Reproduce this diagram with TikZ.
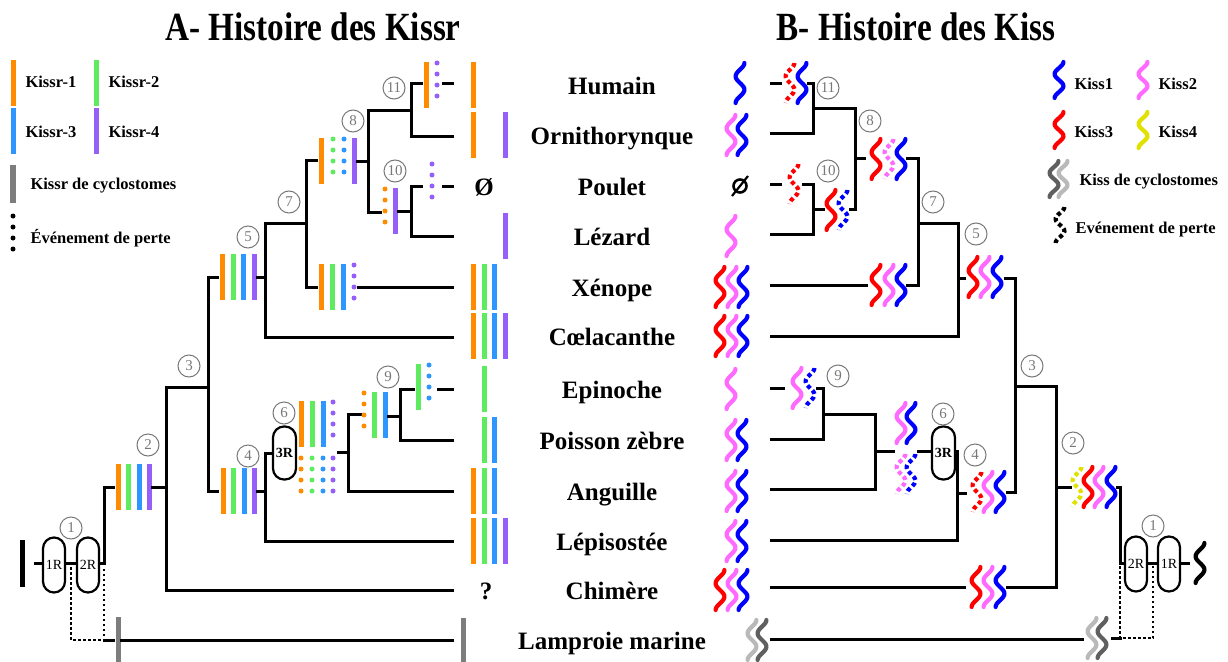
\documentclass[tikz,border=0pt]{standalone}
\usepackage{fontspec}
\usepackage{graphicx}
\setmainfont{Liberation Serif}
\definecolor{kOr}{RGB}{255,140,0}
\definecolor{kGr}{RGB}{95,235,95}
\definecolor{kBl}{RGB}{45,150,255}
\definecolor{kPu}{RGB}{150,95,250}
\definecolor{kGy}{RGB}{125,125,125}
\definecolor{kOne}{RGB}{0,0,255}
\definecolor{kTwo}{RGB}{255,105,255}
\definecolor{kThree}{RGB}{255,0,0}
\definecolor{kFour}{RGB}{225,225,0}
\definecolor{kLg}{RGB}{185,185,185}
\definecolor{kDg}{RGB}{95,95,95}
\definecolor{cGy}{RGB}{120,120,120}
% solid bar, dotted bar, squiggle
\newcommand{\kb}[3]{\draw[#1,line width=5] (#2,#3-23) -- (#2,#3+23);}
\newcommand{\kd}[3]{\draw[#1,line width=5,line cap=round,dash pattern=on 0pt off 11pt] (#2,#3-22) -- (#2,#3+22);}
\newcommand{\ks}[4][40]{\draw[line width=4.2,line cap=round,#2] plot[domain=0:1,samples=41,variable=\t] ({#3+4.4*cos(\t*540)},{#4-#1/2+#1*\t});}
\begin{document}
\begin{tikzpicture}[x=1pt,y=-1pt,
  tree/.style={line width=3,line cap=rect},
  dotl/.style={line width=2.6,dash pattern=on 2.5pt off 2.5pt},
  loss/.style={dash pattern=on 4pt off 3pt,line cap=butt},
  caps/.style={draw,line width=2.2,rounded corners=11,minimum width=22,minimum height=55,fill=white,inner sep=0pt,font=\fontsize{14}{14}\selectfont},
  capsb/.style={caps,minimum width=23,minimum height=53,font=\fontsize{14}{14}\selectfont\bfseries},
  circ/.style={circle,draw=cGy,line width=1,minimum size=22,inner sep=0pt,text=cGy,font=\fontsize{15}{15}\selectfont},
  lab/.style={anchor=base,font=\fontsize{25}{25}\selectfont\bfseries},
  leg/.style={anchor=base west,font=\fontsize{16.5}{16.5}\selectfont\bfseries},
  ttl/.style={anchor=base,font=\fontsize{40}{40}\selectfont\bfseries}]
\fill[white] (0,0) rectangle (1228,661);
\useasboundingbox (0,0) rectangle (1228,661);

% titles
\node[ttl] (tA) at (313,41) {\scalebox{0.83}[1]{A- Histoire des Kissr}};
\node[ttl] (tB) at (916,41) {\scalebox{0.83}[1]{B- Histoire des Kiss}};

% middle labels
\node[lab] (nH) at (612,94) {Humain};
\node[lab] (nO) at (612,144) {Ornithorynque};
\node[lab] (nP) at (612,195) {Poulet};
\node[lab] (nL) at (612,245) {Lézard};
\node[lab] (nX) at (612,296) {Xénope};
\node[lab] (nC) at (612,345) {Cœlacanthe};
\node[lab] (nE) at (612,398) {Epinoche};
\node[lab] (nZ) at (612,449) {Poisson zèbre};
\node[lab] (nA) at (612,500) {Anguille};
\node[lab] (nLe) at (612,550) {Lépisostée};
\node[lab] (nCh) at (612,599) {Chimère};
\node[lab] (nLa) at (612,649) {Lamproie marine};

% ---------- legend A
\kb{kOr}{13}{83} \kb{kGr}{96}{83} \kb{kBl}{13}{131} \kb{kPu}{96}{131}
\draw[kGy,line width=6] (13,165) -- (13,203);
\kd{black}{13}{238}
\node[leg] (lg1) at (22,88) {Kissr-1};
\node[leg] (lg2) at (105,88) {Kissr-2};
\node[leg] (lg3) at (22,137) {Kissr-3};
\node[leg] (lg4) at (105,137) {Kissr-4};
\node[leg] (lg5) at (27,189) {Kissr de cyclostomes};
\node[leg] (lg6) at (27,243) {Événement de perte};

% ---------- legend B
\ks[36]{kOne}{1059}{80} \ks[36]{kTwo}{1143}{80}
\ks[36]{kThree}{1059}{130} \ks[36]{kFour}{1143}{130}
\ks[36]{kDg}{1054}{179} \ks[36]{kLg}{1063}{179}
\ks[36]{black,loss}{1060}{225}
\node[leg] (lk1) at (1071,89) {Kiss1};
\node[leg] (lk2) at (1155,89) {Kiss2};
\node[leg] (lk3) at (1071,137) {Kiss3};
\node[leg] (lk4) at (1155,137) {Kiss4};
\node[leg] (lk5) at (1076,185) {Kiss de cyclostomes};
\node[leg] (lk6) at (1072,233) {Evénement de perte};

% ---------- tips A
\kb{kOr}{473.5}{85}
\kb{kOr}{473.5}{135} \kb{kPu}{505}{135}
\node[lab] (zA) at (484,195) {Ø};
\kb{kPu}{505}{236}
\kb{kOr}{473.5}{287} \kb{kGr}{484}{287} \kb{kBl}{494.5}{287}
\kb{kOr}{473.5}{336} \kb{kGr}{484}{336} \kb{kBl}{494.5}{336} \kb{kPu}{505}{336}
\kb{kGr}{484}{389}
\kb{kGr}{484}{440} \kb{kBl}{494.5}{440}
\kb{kOr}{473.5}{491} \kb{kGr}{484}{491} \kb{kBl}{494.5}{491}
\kb{kOr}{473.5}{541} \kb{kGr}{484}{541} \kb{kBl}{494.5}{541} \kb{kPu}{505}{541}
\node[lab] (qA) at (486,599) {?};
\kb{kGy}{463}{641}

% ---------- tree A
\draw[tree] (35,563) -- (104,563);
\node[caps] (c1A) at (54,565) {1R};
\node[caps] (c2A) at (88,565) {2R};
\draw[line width=5] (22,540) -- (22,587);
\draw[tree] (104,563) -- (104,487) -- (113,487);
\draw[dotl] (71,567) -- (71,640) -- (104,640) -- (104,567);
\draw[tree] (104,640) -- (113,640);
\kb{kGy}{118}{640}
\draw[tree] (121,640) -- (452,640);
% node 2
\kb{kOr}{118}{487} \kb{kGr}{128.5}{487} \kb{kBl}{139}{487} \kb{kPu}{149}{487}
\draw[tree] (152,487) -- (166,487);
\draw[tree] (208,387) -- (166,387) -- (166,590) -- (452,590);
\draw[tree] (217,277) -- (208,277) -- (208,491) -- (217,491);
% node 4
\kb{kOr}{223}{491} \kb{kGr}{233.5}{491} \kb{kBl}{244}{491} \kb{kPu}{254}{491}
\draw[tree] (257,491) -- (265,491);
\draw[tree] (273,453) -- (265,453) -- (265,541) -- (452,541);
\node[capsb] (c3A) at (284.5,453) {3R};
% node 6
\kb{kOr}{301}{424} \kb{kGr}{312}{424} \kb{kBl}{323}{424} \kd{kPu}{333}{424}
\kd{kOr}{301}{480} \kd{kGr}{312}{480} \kd{kBl}{323}{480} \kd{kPu}{333}{480}
\draw[tree] (338,452) -- (348,452);
\draw[tree] (360,414) -- (348,414) -- (348,491) -- (452,491);
% node 9
\kd{kOr}{364}{415} \kb{kGr}{374.5}{415} \kb{kBl}{385}{415}
\draw[tree] (388,416) -- (400,416);
\draw[tree] (413,389) -- (400,389) -- (400,440) -- (452,440);
\kb{kGr}{418}{387} \kd{kBl}{429}{387}
\draw[tree] (438,389) -- (452,389);
% node 5
\kb{kOr}{222}{277} \kb{kGr}{233}{277} \kb{kBl}{243.5}{277} \kb{kPu}{254}{277}
\draw[tree] (257,277) -- (265,277);
\draw[tree] (306,223) -- (265,223) -- (265,337) -- (452,337);
\draw[tree] (316,160) -- (306,160) -- (306,287) -- (316,287);
\kb{kOr}{321.5}{287} \kb{kGr}{332.5}{287} \kb{kBl}{343}{287} \kd{kPu}{354}{287}
\draw[tree] (358,287) -- (452,287);
% node 8
\kb{kOr}{321.5}{161} \kd{kGr}{333}{161} \kd{kBl}{344}{161} \kb{kPu}{354.5}{161}
\draw[tree] (357,161) -- (368,161);
\draw[tree] (380,212) -- (368,212) -- (368,110) -- (411,110);
\draw[tree] (421,83) -- (411,83) -- (411,136) -- (452,136);
\kb{kOr}{426.5}{85} \kd{kPu}{437}{85}
\draw[tree] (443,83) -- (452,83);
% node 10
\kd{kOr}{385}{211} \kb{kPu}{395.5}{211}
\draw[tree] (398,211) -- (411,211);
\draw[tree] (421,186) -- (411,186) -- (411,236) -- (452,236);
\kd{kPu}{432}{186}
\draw[tree] (443,186) -- (452,186);

% circled numbers A
\node[circ] (a1) at (71,528) {1};
\node[circ] (a2) at (148,445) {2};
\node[circ] (a3) at (189,366) {3};
\node[circ] (a4) at (248,456) {4};
\node[circ] (a5) at (248,237) {5};
\node[circ] (a6) at (284,413) {6};
\node[circ] (a7) at (289,202) {7};
\node[circ] (a8) at (353,121) {8};
\node[circ] (a9) at (388,377) {9};
\node[circ] (a10) at (395,171) {10};
\node[circ] (a11) at (394,88) {11};

% ---------- tips B
\ks{kOne}{740}{83}
\ks{kTwo}{731}{135} \ks{kOne}{742}{135}
\draw[line width=2.6] (740,186) circle (6.5);
\draw[line width=2.2] (732,196) -- (748,176);
\ks{kTwo}{731}{236}
\ks{kThree}{720}{287} \ks{kTwo}{732}{287} \ks{kOne}{743}{287}
\ks{kThree}{720}{336} \ks{kTwo}{732}{336} \ks{kOne}{743}{336}
\ks{kTwo}{731}{389}
\ks{kTwo}{731}{440} \ks{kOne}{742}{440}
\ks{kTwo}{731}{491} \ks{kOne}{742}{491}
\ks{kTwo}{731}{541} \ks{kOne}{742}{541}
\ks{kThree}{720}{590} \ks{kTwo}{732}{590} \ks{kOne}{743}{590}
\ks{kLg}{752}{640} \ks{kDg}{762}{640}

% ---------- tree B
\draw[tree] (771,83) -- (780,83);
\ks{kThree,loss}{790}{83} \ks{kOne}{802}{83}
\draw[tree] (808,83) -- (813,83) -- (813,133) -- (771,133);
\draw[tree] (813,108) -- (855,108) -- (855,209) -- (850,209);
\draw[tree] (855,158) -- (864,158);
\ks{kThree}{876}{159} \ks{kTwo,loss}{889}{159} \ks{kOne}{901}{159}
\draw[tree] (907,158) -- (918,158) -- (918,285) -- (907,285);
\draw[tree] (918,223) -- (958,223) -- (958,336) -- (771,336);
\draw[tree] (771,285) -- (866,285);
\ks{kThree}{876}{285} \ks{kTwo}{889}{285} \ks{kOne}{901}{285}
% node 10
\draw[tree] (771,184) -- (780,184);
\ks{kThree,loss}{794}{184}
\draw[tree] (803,184) -- (813,184) -- (813,234) -- (771,234);
\draw[tree] (813,209) -- (823,209);
\ks{kThree}{831}{210} \ks{kOne,loss}{843}{210}
% node 5
\draw[tree] (958,278) -- (964,278);
\ks{kThree}{973}{277} \ks{kTwo}{985}{277} \ks{kOne}{997}{277}
\draw[tree] (1005,278) -- (1015,278) -- (1015,492) -- (1007,492);
\draw[tree] (1015,386) -- (1056,386) -- (1056,587) -- (1007,587);
\draw[tree] (964,587) -- (771,587);
\ks{kThree}{976}{587} \ks{kTwo}{988}{587} \ks{kOne}{1000}{587}
% node 4
\ks{kThree,loss}{977}{492} \ks{kTwo}{988}{492} \ks{kOne}{1000}{492}
\draw[tree] (965,493) -- (957,493);
\draw[tree] (955,451) -- (957,451) -- (957,540) -- (771,540);
\draw[tree] (918,451) -- (932,451);
\node[capsb] (c3B) at (943.5,453) {3R};
% node 6
\ks{kTwo}{901}{423} \ks{kOne}{911}{423}
\ks{kTwo,loss}{901}{474} \ks{kOne,loss}{911}{474}
\draw[tree] (893,451) -- (875,451);
\draw[tree] (823,414) -- (875,414) -- (875,489) -- (771,489);
\draw[tree] (817,388) -- (823,388) -- (823,439) -- (771,439);
\ks{kTwo}{797}{388} \ks{kOne,loss}{810}{388}
\draw[tree] (771,388) -- (783,388);
% node 2
\draw[tree] (1056,487) -- (1070,487);
\ks{kFour,loss}{1077}{487} \ks{kThree}{1088}{487} \ks{kTwo}{1099}{487} \ks{kOne}{1111}{487}
\draw[tree] (1117,487) -- (1120,487) -- (1120,563) -- (1188,563);
\node[caps] (c2B) at (1136,564) {2R};
\node[caps] (c1B) at (1169,564) {1R};
\ks{black}{1200}{563}
\draw[dotl] (1120,566) -- (1120,638) -- (1153,638) -- (1153,566);
\draw[tree] (1112,638) -- (1120,638);
\draw[tree] (771,639) -- (1082,639);
\ks{kLg}{1092}{638} \ks{kDg}{1102}{638}

% circled numbers B
\node[circ] (b1) at (1153,526) {1};
\node[circ] (b2) at (1073,443) {2};
\node[circ] (b3) at (1032,366) {3};
\node[circ] (b4) at (975,455) {4};
\node[circ] (b5) at (976,234) {5};
\node[circ] (b6) at (943,414) {6};
\node[circ] (b7) at (933,202) {7};
\node[circ] (b8) at (870,121) {8};
\node[circ] (b9) at (838,376) {9};
\node[circ] (b10) at (828,171) {10};
\node[circ] (b11) at (828,88) {11};
\end{tikzpicture}
\end{document}
